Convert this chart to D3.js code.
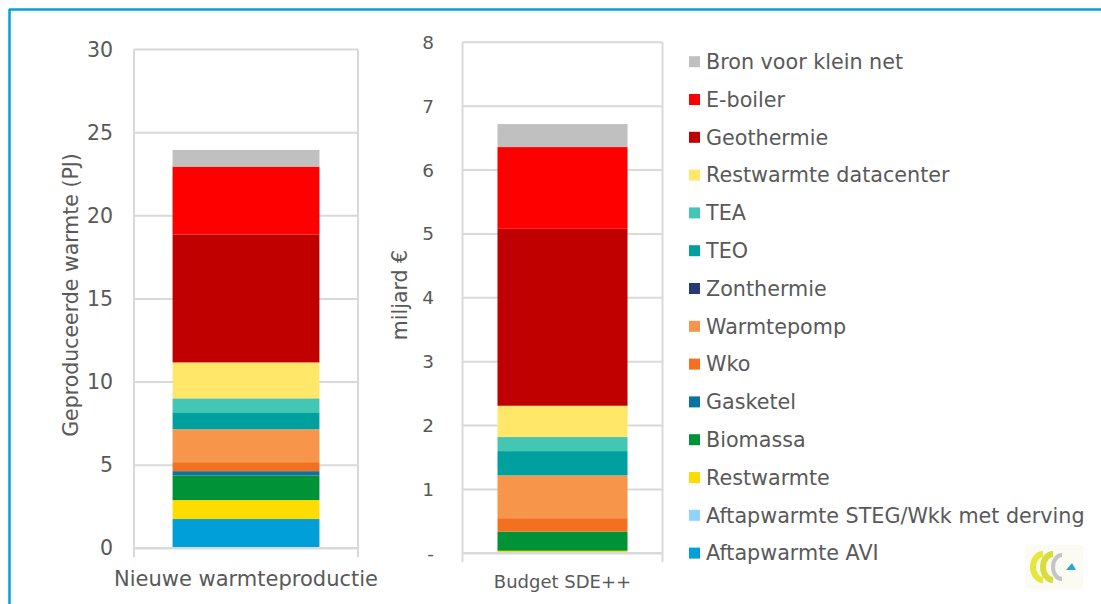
<!DOCTYPE html>
<html>
<head>
<meta charset="utf-8">
<script src="https://cdn.jsdelivr.net/npm/d3@7"></script>
<style>
    body { margin: 0; background: #fff; }
    text { font-family: "DejaVu Sans", sans-serif; fill: #595959; }
</style>
</head>
<body>
<div id="chart"></div>
<script>
// Series names, from bottom of the stack to the top
var seriesNames = ["Aftapwarmte AVI", "Aftapwarmte STEG/Wkk met derving", "Restwarmte", "Biomassa",
    "Gasketel", "Wko", "Warmtepomp", "Zonthermie", "TEO", "TEA", "Restwarmte datacenter",
    "Geothermie", "E-boiler", "Bron voor klein net"];

var seriesColors = ["#009fda", "#8fd3ff", "#ffdc00", "#009236",
    "#0a73a3", "#f37021", "#f7964a", "#283a74", "#00a09f", "#43c6b4", "#ffe76a",
    "#c00000", "#ff0000", "#c0c0c0"];

// Left chart: produced heat (PJ)
var warmteCategory = ["Nieuwe warmteproductie"];
var warmteValues = [1.76, 0, 1.14, 1.48, 0.26, 0.54, 1.98, 0, 1.02, 0.84, 2.16, 7.7, 4.08, 1.0];
var warmteTicks = [0, 5, 10, 15, 20, 25, 30];

// Right chart: SDE++ budget (miljard €)
var budgetCategory = ["Budget SDE++"];
var budgetValues = [0.01, 0, 0.03, 0.30, 0, 0.21, 0.67, 0, 0.38, 0.22, 0.49, 2.77, 1.28, 0.36];
var budgetTicks = [0, 1, 2, 3, 4, 5, 6, 7, 8];
var budgetTickLabels = ["-", "1", "2", "3", "4", "5", "6", "7", "8"];

var svgWidth = 1101;
var svgHeight = 604;
var gridColor = "#d9d9d9";

var svg = d3.select("#chart")
    .append("svg")
    .attr("width", svgWidth)
    .attr("height", svgHeight);

// blue frame (top and left)
svg.append("line")
    .attr("x1", 9).attr("x2", svgWidth).attr("y1", 9.5).attr("y2", 9.5)
    .attr("stroke", "#00a0dc").attr("stroke-width", 2.5);
svg.append("line")
    .attr("x1", 9.5).attr("x2", 9.5).attr("y1", 9).attr("y2", svgHeight)
    .attr("stroke", "#00a0dc").attr("stroke-width", 2.5);

// draws one stacked bar panel
function drawPanel(opts) {
    var y = d3.scaleLinear().domain(opts.domain).range([opts.bottom, opts.top]);
    var x = d3.scaleBand().domain(opts.category).range([opts.left, opts.right]).padding(opts.padding);

    var g = svg.append("g");

    // gridlines
    g.selectAll(".grid")
        .data(opts.ticks.slice(1))
        .enter()
        .append("line")
        .attr("x1", opts.left).attr("x2", opts.right)
        .attr("y1", d => y(d)).attr("y2", d => y(d))
        .attr("stroke", gridColor).attr("stroke-width", 2);

    // side borders
    [opts.left, opts.right].forEach(function (xx) {
        g.append("line")
            .attr("x1", xx).attr("x2", xx)
            .attr("y1", y(opts.domain[1])).attr("y2", y(0) + 9)
            .attr("stroke", gridColor).attr("stroke-width", 2);
    });

    // stacked segments
    var row = {};
    seriesNames.forEach(function (s, i) { row[s] = opts.values[i]; });
    var stacked = d3.stack().keys(seriesNames)([row]);

    g.selectAll(".seg")
        .data(stacked)
        .enter()
        .append("rect")
        .attr("x", x(opts.category[0]))
        .attr("width", x.bandwidth())
        .attr("y", d => y(d[0][1]))
        .attr("height", d => y(d[0][0]) - y(d[0][1]))
        .attr("fill", (d, i) => seriesColors[i]);

    // zero axis line
    g.append("line")
        .attr("x1", opts.left).attr("x2", opts.right)
        .attr("y1", y(0)).attr("y2", y(0))
        .attr("stroke", gridColor).attr("stroke-width", 2.5);

    // tick labels
    g.selectAll(".tick")
        .data(opts.ticks)
        .enter()
        .append("text")
        .attr("x", opts.labelX)
        .attr("y", d => y(d))
        .attr("dy", "0.35em")
        .attr("text-anchor", "end")
        .style("font-size", opts.fontSize + "px")
        .text((d, i) => opts.tickLabels[i]);

    // category label
    g.append("text")
        .attr("x", x(opts.category[0]) + x.bandwidth() / 2)
        .attr("y", opts.catY)
        .attr("text-anchor", "middle")
        .style("font-size", opts.catSize + "px")
        .text(opts.category[0]);

    // y axis title
    g.append("text")
        .attr("transform", `translate(${opts.titleX}, ${opts.titleY}) rotate(-90)`)
        .attr("text-anchor", "middle")
        .style("font-size", opts.titleSize + "px")
        .text(opts.title);
}

drawPanel({
    category: warmteCategory,
    values: warmteValues,
    domain: [0, 30],
    ticks: warmteTicks,
    tickLabels: warmteTicks.map(String),
    left: 134, right: 358, top: 49.5, bottom: 548.3,
    padding: 0.208,
    labelX: 113,
    fontSize: 20.5,
    catY: 586, catSize: 21,
    title: "Geproduceerde warmte (PJ)",
    titleX: 78, titleY: 295, titleSize: 20.5
});

drawPanel({
    category: budgetCategory,
    values: budgetValues,
    domain: [0, 8],
    ticks: budgetTicks,
    tickLabels: budgetTickLabels,
    left: 462.5, right: 662.5, top: 42.3, bottom: 553.3,
    padding: 0.212,
    labelX: 434,
    fontSize: 18.5,
    catY: 588, catSize: 18,
    title: "miljard €",
    titleX: 407, titleY: 295, titleSize: 20.5
});

// legend, top to bottom
var legendNames = seriesNames.slice().reverse();
var legendColors = seriesColors.slice().reverse();

var legend = svg.append("g");
legend.selectAll("rect")
    .data(legendNames)
    .enter()
    .append("rect")
    .attr("x", 689)
    .attr("y", (d, i) => 61.7 + i * 37.8 - 5.5)
    .attr("width", 11)
    .attr("height", 11)
    .attr("fill", (d, i) => legendColors[i]);

legend.selectAll("text")
    .data(legendNames)
    .enter()
    .append("text")
    .attr("x", 706)
    .attr("y", (d, i) => 61.7 + i * 37.8)
    .attr("dy", "0.35em")
    .style("font-size", "20.7px")
    .text(d => d);

// small logo in the corner
var logo = svg.append("g").attr("transform", "translate(1053, 567)");
logo.append("rect").attr("x", -28).attr("y", -22).attr("width", 58).attr("height", 44).attr("fill", "#fbfbf4");
logo.append("path").attr("d", "M-10,-13 A10,13 0 1,0 -10,13").attr("fill", "none").attr("stroke", "#e4e83a").attr("stroke-width", 6);
logo.append("path").attr("d", "M0,-13 A10,13 0 1,0 0,13").attr("fill", "none").attr("stroke", "#d7de3c").attr("stroke-width", 6);
logo.append("path").attr("d", "M9,-12 A9,12 0 1,0 9,12").attr("fill", "none").attr("stroke", "#c4c4c4").attr("stroke-width", 4);
logo.append("path").attr("d", "M13,3 L19,-4 L23,3 Z").attr("fill", "#2aa6d6");
</script>
</body>
</html>
